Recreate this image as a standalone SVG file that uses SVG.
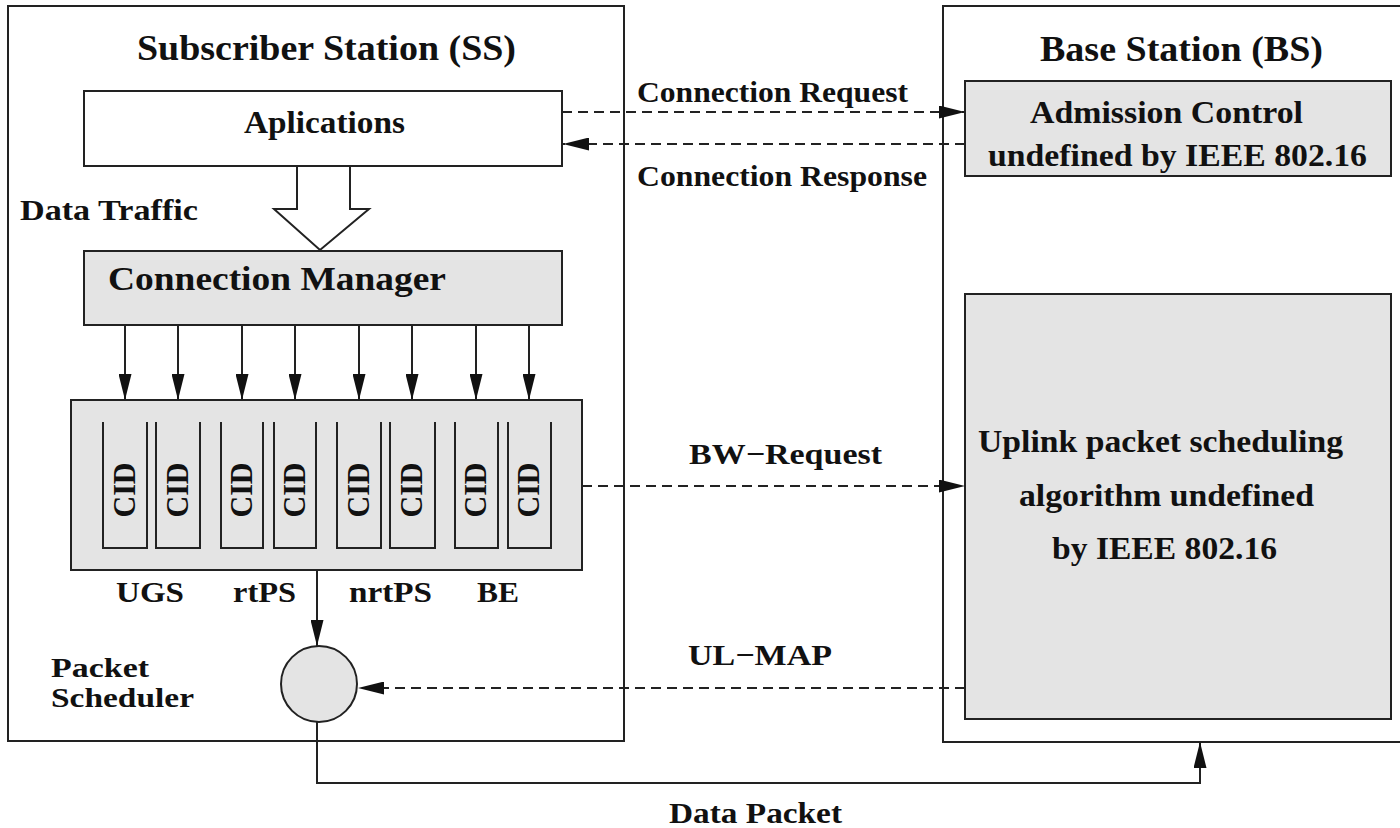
<svg xmlns="http://www.w3.org/2000/svg" width="1400" height="828" viewBox="0 0 1400 828">
<style>
.t{font-family:"Liberation Serif","Times New Roman",serif;font-weight:bold;fill:#111;}
.box{fill:#fff;stroke:#222;stroke-width:2;}
.gbox{fill:#e4e4e4;stroke:#222;stroke-width:2;}
.ln{fill:none;stroke:#222;stroke-width:2;}
.dash{fill:none;stroke:#222;stroke-width:2;stroke-dasharray:10 6;}
.q{fill:none;stroke:#222;stroke-width:2;}
</style>
<defs>
<marker id="ah" markerUnits="userSpaceOnUse" markerWidth="27" markerHeight="13" refX="26" refY="6.5" orient="auto">
<path d="M0,0 L26,6.5 L0,13 z" fill="#111" stroke="none"/>
</marker>
</defs>
<rect width="1400" height="828" fill="#fff"/>

<g id="ss">
<rect class="box" x="8" y="6" width="616" height="735"/>
<text class="t" x="137" y="60" font-size="35" textLength="379" lengthAdjust="spacingAndGlyphs">Subscriber Station (SS)</text>
</g>

<g id="bs">
<rect class="box" x="943" y="6" width="470" height="736"/>
<text class="t" x="1040" y="61" font-size="35" textLength="283" lengthAdjust="spacingAndGlyphs">Base Station (BS)</text>
</g>

<g id="applications">
<rect class="box" x="84" y="91" width="478" height="75"/>
<text class="t" x="244" y="133" font-size="32" textLength="161" lengthAdjust="spacingAndGlyphs">Aplications</text>
</g>

<g id="admission-control">
<rect class="gbox" x="965" y="81" width="426" height="95"/>
<text class="t" x="1030" y="123" font-size="31" textLength="273" lengthAdjust="spacingAndGlyphs">Admission Control</text>
<text class="t" x="988" y="166" font-size="31" textLength="379" lengthAdjust="spacingAndGlyphs">undefined by IEEE 802.16</text>
</g>

<g id="connection-manager">
<rect class="gbox" x="84" y="251" width="478" height="74"/>
<text class="t" x="108" y="290" font-size="34" textLength="338" lengthAdjust="spacingAndGlyphs">Connection Manager</text>
</g>

<g id="queues">
<rect class="gbox" x="71" y="400" width="511" height="170"/>
<path class="q" d="M103,422 V548 H147 V422"/>
<path class="q" d="M156,422 V548 H200 V422"/>
<path class="q" d="M221,422 V548 H263 V422"/>
<path class="q" d="M274,422 V548 H316 V422"/>
<path class="q" d="M337,422 V548 H381 V422"/>
<path class="q" d="M390,422 V548 H435 V422"/>
<path class="q" d="M455,422 V548 H498 V422"/>
<path class="q" d="M508,422 V548 H551 V422"/>
<g class="t" font-size="31" text-anchor="middle">
<text transform="translate(135,490) rotate(-90)" textLength="55" lengthAdjust="spacingAndGlyphs">CID</text>
<text transform="translate(188,490) rotate(-90)" textLength="55" lengthAdjust="spacingAndGlyphs">CID</text>
<text transform="translate(252,490) rotate(-90)" textLength="55" lengthAdjust="spacingAndGlyphs">CID</text>
<text transform="translate(305,490) rotate(-90)" textLength="55" lengthAdjust="spacingAndGlyphs">CID</text>
<text transform="translate(369,490) rotate(-90)" textLength="55" lengthAdjust="spacingAndGlyphs">CID</text>
<text transform="translate(422,490) rotate(-90)" textLength="55" lengthAdjust="spacingAndGlyphs">CID</text>
<text transform="translate(486,490) rotate(-90)" textLength="55" lengthAdjust="spacingAndGlyphs">CID</text>
<text transform="translate(539,490) rotate(-90)" textLength="55" lengthAdjust="spacingAndGlyphs">CID</text>
</g>
<text class="t" x="116" y="602" font-size="29" textLength="68" lengthAdjust="spacingAndGlyphs">UGS</text>
<text class="t" x="233" y="602" font-size="29" textLength="63" lengthAdjust="spacingAndGlyphs">rtPS</text>
<text class="t" x="349" y="602" font-size="29" textLength="83" lengthAdjust="spacingAndGlyphs">nrtPS</text>
<text class="t" x="477" y="602" font-size="29" textLength="42" lengthAdjust="spacingAndGlyphs">BE</text>
</g>

<g id="packet-scheduler">
<circle cx="319" cy="684" r="38" fill="#e4e4e4" stroke="#222" stroke-width="2"/>
<text class="t" x="51" y="677" font-size="28" textLength="98" lengthAdjust="spacingAndGlyphs">Packet</text>
<text class="t" x="51" y="707" font-size="28" textLength="143" lengthAdjust="spacingAndGlyphs">Scheduler</text>
</g>

<g id="uplink-scheduler">
<rect class="gbox" x="965" y="294" width="426" height="425"/>
<text class="t" x="978" y="452" font-size="31" textLength="365" lengthAdjust="spacingAndGlyphs">Uplink packet scheduling</text>
<text class="t" x="1019" y="506" font-size="31" textLength="295" lengthAdjust="spacingAndGlyphs">algorithm undefined</text>
<text class="t" x="1052" y="559" font-size="31" textLength="225" lengthAdjust="spacingAndGlyphs">by IEEE 802.16</text>
</g>

<g id="connectors">
<polygon points="297,166 297,209 274,209 320,250 369,209 350,209 350,166" fill="#fff" stroke="#222" stroke-width="2"/>
<text class="t" x="20" y="220" font-size="30" textLength="178" lengthAdjust="spacingAndGlyphs">Data Traffic</text>

<line class="ln" x1="125" y1="325" x2="125" y2="400" marker-end="url(#ah)"/>
<line class="ln" x1="178" y1="325" x2="178" y2="400" marker-end="url(#ah)"/>
<line class="ln" x1="242" y1="325" x2="242" y2="400" marker-end="url(#ah)"/>
<line class="ln" x1="295" y1="325" x2="295" y2="400" marker-end="url(#ah)"/>
<line class="ln" x1="359" y1="325" x2="359" y2="400" marker-end="url(#ah)"/>
<line class="ln" x1="412" y1="325" x2="412" y2="400" marker-end="url(#ah)"/>
<line class="ln" x1="476" y1="325" x2="476" y2="400" marker-end="url(#ah)"/>
<line class="ln" x1="529" y1="325" x2="529" y2="400" marker-end="url(#ah)"/>

<line class="dash" x1="562" y1="112" x2="965" y2="112" marker-end="url(#ah)"/>
<text class="t" x="637" y="102" font-size="30" textLength="271" lengthAdjust="spacingAndGlyphs">Connection Request</text>
<line class="dash" x1="965" y1="144" x2="563" y2="144" marker-end="url(#ah)"/>
<text class="t" x="637" y="186" font-size="30" textLength="290" lengthAdjust="spacingAndGlyphs">Connection Response</text>

<line class="dash" x1="582" y1="486" x2="965" y2="486" marker-end="url(#ah)"/>
<text class="t" x="689" y="464" font-size="30" textLength="193" lengthAdjust="spacingAndGlyphs">BW−Request</text>

<line class="ln" x1="317" y1="570" x2="317" y2="646" marker-end="url(#ah)"/>

<line class="dash" x1="965" y1="688" x2="358" y2="688" marker-end="url(#ah)"/>
<text class="t" x="688" y="665" font-size="30" textLength="144" lengthAdjust="spacingAndGlyphs">UL−MAP</text>

<path class="ln" d="M317,722 V783 H1200 V742" marker-end="url(#ah)"/>
<text class="t" x="669" y="823" font-size="30" textLength="173" lengthAdjust="spacingAndGlyphs">Data Packet</text>
</g>
</svg>
